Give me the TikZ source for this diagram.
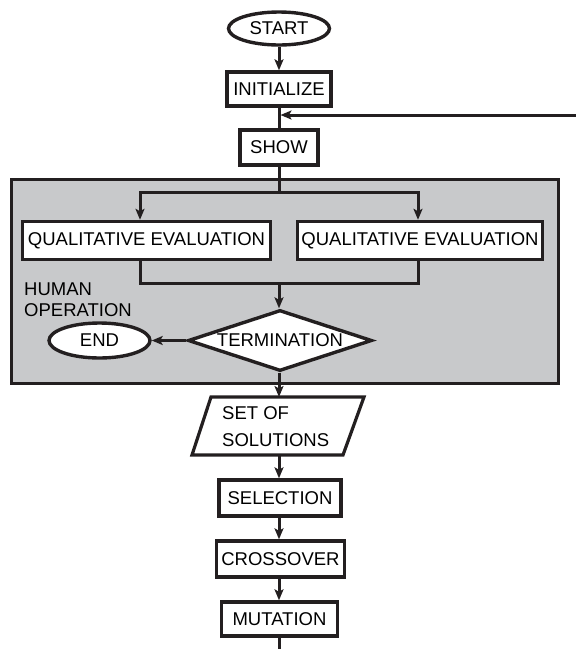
\documentclass[tikz,border=0pt]{standalone}
\usepackage{fontspec}
\setmainfont{Liberation Sans}
\usetikzlibrary{shapes.geometric,arrows.meta}

\definecolor{ink}{HTML}{231F20}
\definecolor{panel}{HTML}{C8C9CB}

\tikzset{
  boxline/.style={draw=ink, line width=3.4pt, fill=white, inner sep=0pt,
    font=\fontsize{18.5}{22}\selectfont},
  procbox/.style={boxline, rectangle},
  termbox/.style={boxline, ellipse},
  decbox/.style={boxline, diamond, aspect=3},
  ioshape/.style={draw=ink, line width=3.2pt, fill=white, line join=miter},
  conn/.style={draw=ink, line width=3pt},
  arr/.style={conn, -{Stealth[length=11pt,width=9pt,inset=2.5pt]}},
}

\begin{document}
\begin{tikzpicture}[x=1pt,y=-1pt]
\useasboundingbox (0,0) rectangle (576,649);

% human operation panel
\node[draw=ink, line width=3.4pt, fill=panel, minimum width=547pt,
      minimum height=204pt, inner sep=0pt, anchor=north west] (panel) at (10,178) {};
\node[font=\fontsize{18.5}{21}\selectfont, align=left, anchor=west,
      inner sep=0pt] (human) at (24,300) {HUMAN\\OPERATION};

% main flow
\node[termbox, minimum width=101pt, minimum height=33pt] (start) at (279,28.5) {START};
\node[procbox, minimum width=104pt, minimum height=34pt] (init) at (279,89) {INITIALIZE};
\node[procbox, minimum width=78pt, minimum height=35pt] (show) at (279,147.5) {SHOW};
\node[procbox, minimum width=248pt, minimum height=38pt] (qea) at (146.5,240.5) {QUALITATIVE EVALUATION};
\node[procbox, minimum width=245pt, minimum height=38pt] (qeb) at (420,240.5) {QUALITATIVE EVALUATION};
\node[decbox, minimum width=184pt, minimum height=61pt] (term) at (280,340.5) {TERMINATION};
\node[termbox, minimum width=101pt, minimum height=35pt] (end) at (99.5,340.5) {END};

% input/output parallelogram for the solution set
\coordinate (solsN) at (279,397);
\coordinate (solsS) at (279,455);
\draw[ioshape] (211,397) -- (364,397) -- (343,455) -- (192,455) -- cycle;
\node[font=\fontsize{18.5}{27}\selectfont, align=left, inner sep=0pt,
      anchor=west] (sols) at (222,426.5) {SET OF\\SOLUTIONS};

\node[procbox, minimum width=122pt, minimum height=36pt] (sel) at (280,498) {SELECTION};
\node[procbox, minimum width=128pt, minimum height=36pt] (cross) at (280.5,559) {CROSSOVER};
\node[procbox, minimum width=116pt, minimum height=34pt] (mut) at (279.5,619) {MUTATION};

% junction points and free ends
\coordinate (fb) at (576,115);
\coordinate (split) at (279,192);
\coordinate (spa) at (140,192);
\coordinate (spb) at (418,192);
\coordinate (join) at (279,283);
\coordinate (jna) at (140,283);
\coordinate (jnb) at (418,283);
\coordinate (tail) at (279,649);

% connectors
\draw[arr] (start.south) -- (start.south |- init.north);
\draw[conn] (init.south) -- (init.south |- show.north);
\draw[arr, shorten >=1.5pt] (fb) -- (init.south |- fb);
\draw[conn] (show.south) -- (split);
\draw[conn, line cap=rect] (spa) -- (spb);
\draw[arr] (spa) -- (spa |- qea.north);
\draw[arr] (spb) -- (spb |- qeb.north);
\draw[conn, line join=miter] (spa |- qea.south) -- (jna) -- (jnb) -- (spb |- qeb.south);
\draw[arr] (join) -- (join |- term.north);
\draw[arr] (term.west) -- (end.east);
\draw[arr] (join |- term.south) -- (solsN);
\draw[arr] (solsS) -- (join |- sel.north);
\draw[arr] (join |- sel.south) -- (join |- cross.north);
\draw[arr] (join |- cross.south) -- (join |- mut.north);
\draw[conn] (join |- mut.south) -- (tail);
\end{tikzpicture}
\end{document}
